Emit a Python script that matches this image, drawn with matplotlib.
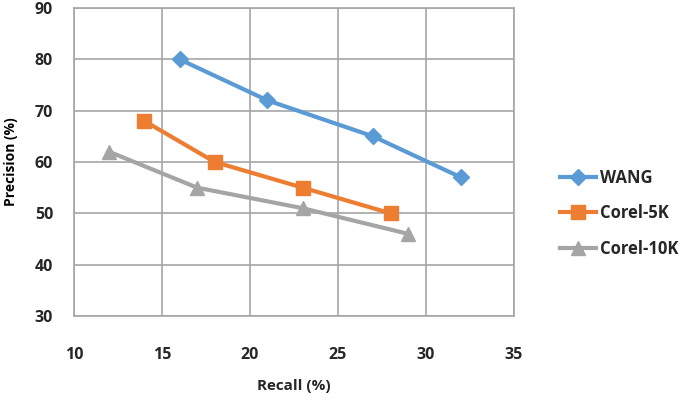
import matplotlib.pyplot as plt

recall_wang = [16, 21, 27, 32]
prec_wang = [80, 72, 65, 57]
recall_5k = [14, 18, 23, 28]
prec_5k = [68, 60, 55, 50]
recall_10k = [12, 17, 23, 29]
prec_10k = [62, 55, 51, 46]

xticks = [10, 15, 20, 25, 30, 35]
yticks = [30, 40, 50, 60, 70, 80, 90]

plt.rcParams["font.family"] = ["Open Sans", "DejaVu Sans"]

fig = plt.figure(figsize=(6.85, 4.0), dpi=100)
ax = fig.add_axes([0.108, 0.21, 0.642, 0.77])

ax.plot(recall_wang, prec_wang, color="#5B9BD5", lw=3, marker="D", ms=8, label="WANG")
ax.plot(recall_5k, prec_5k, color="#ED7D31", lw=3, marker="s", ms=10, label="Corel-5K")
ax.plot(recall_10k, prec_10k, color="#A5A5A5", lw=3, marker="^", ms=10, label="Corel-10K")

ax.set_xlim(10, 35)
ax.set_ylim(30, 90)
ax.set_xticks(xticks)
ax.set_yticks(yticks)
ax.grid(True, color="#A6A6A6", lw=1.2)
ax.set_axisbelow(True)
for s in ax.spines.values():
    s.set_color("#A6A6A6")
    s.set_linewidth(1.2)
ax.tick_params(length=0, labelsize=11.5, pad=15, colors="#262626")
ax.tick_params(axis="x", pad=22)
for lab in ax.get_xticklabels() + ax.get_yticklabels():
    lab.set_fontweight("bold")

ax.set_xlabel("Recall (%)", fontsize=11, fontweight="bold", color="#262626", labelpad=12)
ax.set_ylabel("Precision (%)", fontsize=10, fontweight="bold", color="#000000", labelpad=12)

leg = ax.legend(loc="center left", bbox_to_anchor=(1.07, 0.334), frameon=False,
                prop={"size": 12, "weight": "bold"}, handlelength=2.2,
                labelspacing=1.05, handletextpad=0.2)
for t in leg.get_texts():
    t.set_color("#262626")

fig.savefig("out.png", dpi=100)
